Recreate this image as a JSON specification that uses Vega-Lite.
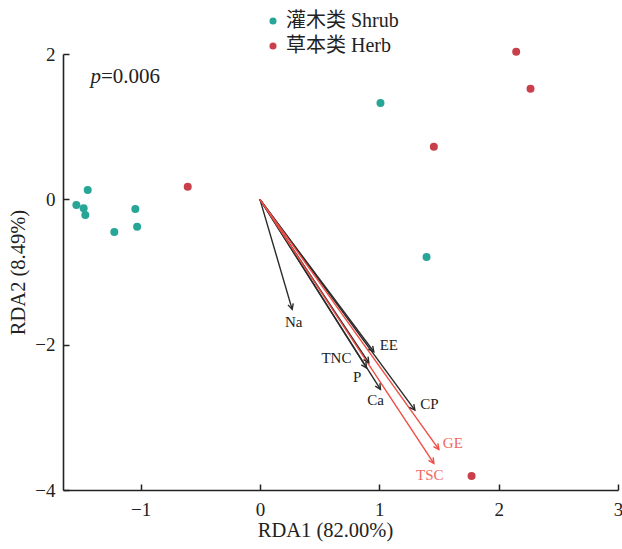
{
  "$schema": "https://vega.github.io/schema/vega-lite/v6.json",
  "width": 555,
  "height": 436,
  "autosize": "none",
  "padding": {"left": 63, "top": 54, "right": 4, "bottom": 59},
  "datasets": {
    "samples": [
      {"type": "灌木类 Shrub", "x": 1.010, "y": 1.326},
      {"type": "灌木类 Shrub", "x": 1.396, "y": -0.794},
      {"type": "灌木类 Shrub", "x": -1.443, "y": 0.128},
      {"type": "灌木类 Shrub", "x": -1.538, "y": -0.078},
      {"type": "灌木类 Shrub", "x": -1.477, "y": -0.124},
      {"type": "灌木类 Shrub", "x": -1.463, "y": -0.216},
      {"type": "灌木类 Shrub", "x": -1.044, "y": -0.133},
      {"type": "灌木类 Shrub", "x": -1.029, "y": -0.377},
      {"type": "灌木类 Shrub", "x": -1.220, "y": -0.450},
      {"type": "草本类 Herb", "x": -0.605, "y": 0.173},
      {"type": "草本类 Herb", "x": 2.147, "y": 2.032},
      {"type": "草本类 Herb", "x": 2.267, "y": 1.522},
      {"type": "草本类 Herb", "x": 1.457, "y": 0.724},
      {"type": "草本类 Herb", "x": 1.773, "y": -3.808}
    ],
    "env": [
      {"name": "Na", "x": 0.270, "y": -1.514, "lx": 0.283, "ly": -1.685, "sig": false},
      {"name": "EE", "x": 0.954, "y": -2.098, "lx": 1.080, "ly": -2.006, "sig": false},
      {"name": "TNC", "x": 0.912, "y": -2.249, "lx": 0.641, "ly": -2.180, "sig": false},
      {"name": "P", "x": 0.893, "y": -2.321, "lx": 0.815, "ly": -2.442, "sig": false},
      {"name": "Ca", "x": 1.010, "y": -2.615, "lx": 0.968, "ly": -2.763, "sig": false},
      {"name": "CP", "x": 1.298, "y": -2.900, "lx": 1.421, "ly": -2.822, "sig": false},
      {"name": "GE", "x": 1.499, "y": -3.441, "lx": 1.616, "ly": -3.350, "sig": true},
      {"name": "TSC", "x": 1.457, "y": -3.634, "lx": 1.423, "ly": -3.795, "sig": true}
    ],
    "annot": [
      {"text": "p", "x": -1.420, "y": 1.60},
      {"text": "=0.006", "x": -1.332, "y": 1.60}
    ]
  },
  "layer": [
    {
      "data": {"name": "env"},
      "mark": {"type": "rule", "strokeWidth": 1.4},
      "encoding": {
        "x": {"field": "x", "type": "quantitative", "scale": {"domain": [-1.65, 3], "nice": false, "zero": false}, "axis": {"values": [-1, 0, 1, 2, 3], "format": "d", "title": "RDA1 (82.00%)", "labelFlush": false, "labelPadding": 16, "titlePadding": 1, "titleX": 262}},
        "y": {"field": "y", "type": "quantitative", "scale": {"domain": [-4, 2], "nice": false, "zero": false}, "axis": {"values": [-4, -2, 0, 2], "format": "d", "title": "RDA2 (8.49%)", "labelFlush": false, "labelPadding": 14, "titlePadding": 6}},
        "x2": {"datum": 0},
        "y2": {"datum": 0},
        "color": {"condition": {"test": "datum.sig", "value": "#ef4d44"}, "value": "#2a2a2a"}
      }
    },
    {
      "data": {"name": "env"},
      "mark": {
        "type": "point",
        "shape": "M-2,-1L0,0L-2,1",
        "filled": false,
        "size": 30,
        "strokeWidth": 1.4,
        "opacity": 1,
        "angle": {"expr": "atan2(scale('y', datum.y) - scale('y', 0), scale('x', datum.x) - scale('x', 0)) * 180 / PI"}
      },
      "encoding": {
        "x": {"field": "x", "type": "quantitative"},
        "y": {"field": "y", "type": "quantitative"},
        "color": {"condition": {"test": "datum.sig", "value": "#ef4d44"}, "value": "#2a2a2a"}
      }
    },
    {
      "data": {"name": "env"},
      "mark": {"type": "text", "font": "Liberation Serif", "fontSize": 15, "align": "center", "baseline": "middle"},
      "encoding": {
        "x": {"field": "lx", "type": "quantitative"},
        "y": {"field": "ly", "type": "quantitative"},
        "text": {"field": "name"},
        "color": {"condition": {"test": "datum.sig", "value": "#f2685f"}, "value": "#222222"}
      }
    },
    {
      "data": {"name": "samples"},
      "mark": {"type": "circle", "size": 64, "opacity": 1},
      "encoding": {
        "x": {"field": "x", "type": "quantitative"},
        "y": {"field": "y", "type": "quantitative"},
        "color": {
          "field": "type",
          "type": "nominal",
          "scale": {"domain": ["灌木类 Shrub", "草本类 Herb"], "range": ["#27a596", "#c9404a"]},
          "legend": {
            "title": null,
            "orient": "none",
            "legendX": 200,
            "legendY": -43,
            "symbolType": "circle",
            "symbolSize": 50,
            "labelFont": "Liberation Serif, Noto Sans CJK SC",
            "labelFontSize": 20,
            "labelColor": "#222222",
            "labelOffset": 3,
            "rowPadding": 5
          }
        }
      }
    },
    {
      "data": {"name": "annot"},
      "transform": [{"filter": "datum.text == 'p'"}],
      "mark": {"type": "text", "font": "Liberation Serif", "fontSize": 21, "fontStyle": "italic", "align": "left", "baseline": "alphabetic", "color": "#222222"},
      "encoding": {
        "x": {"field": "x", "type": "quantitative"},
        "y": {"field": "y", "type": "quantitative"},
        "text": {"field": "text"}
      }
    },
    {
      "data": {"name": "annot"},
      "transform": [{"filter": "datum.text != 'p'"}],
      "mark": {"type": "text", "font": "Liberation Serif", "fontSize": 21, "align": "left", "baseline": "alphabetic", "color": "#222222"},
      "encoding": {
        "x": {"field": "x", "type": "quantitative"},
        "y": {"field": "y", "type": "quantitative"},
        "text": {"field": "text"}
      }
    }
  ],
  "config": {
    "view": {"stroke": null},
    "axis": {
      "grid": false,
      "domainColor": "#222222",
      "domainWidth": 1.6,
      "tickColor": "#222222",
      "tickWidth": 1.5,
      "tickSize": -6,
      "labelFont": "Liberation Serif",
      "labelFontSize": 19,
      "labelColor": "#222222",
      "titleFont": "Liberation Serif",
      "titleFontSize": 20.5,
      "titleFontWeight": "normal",
      "titleColor": "#222222"
    }
  }
}
